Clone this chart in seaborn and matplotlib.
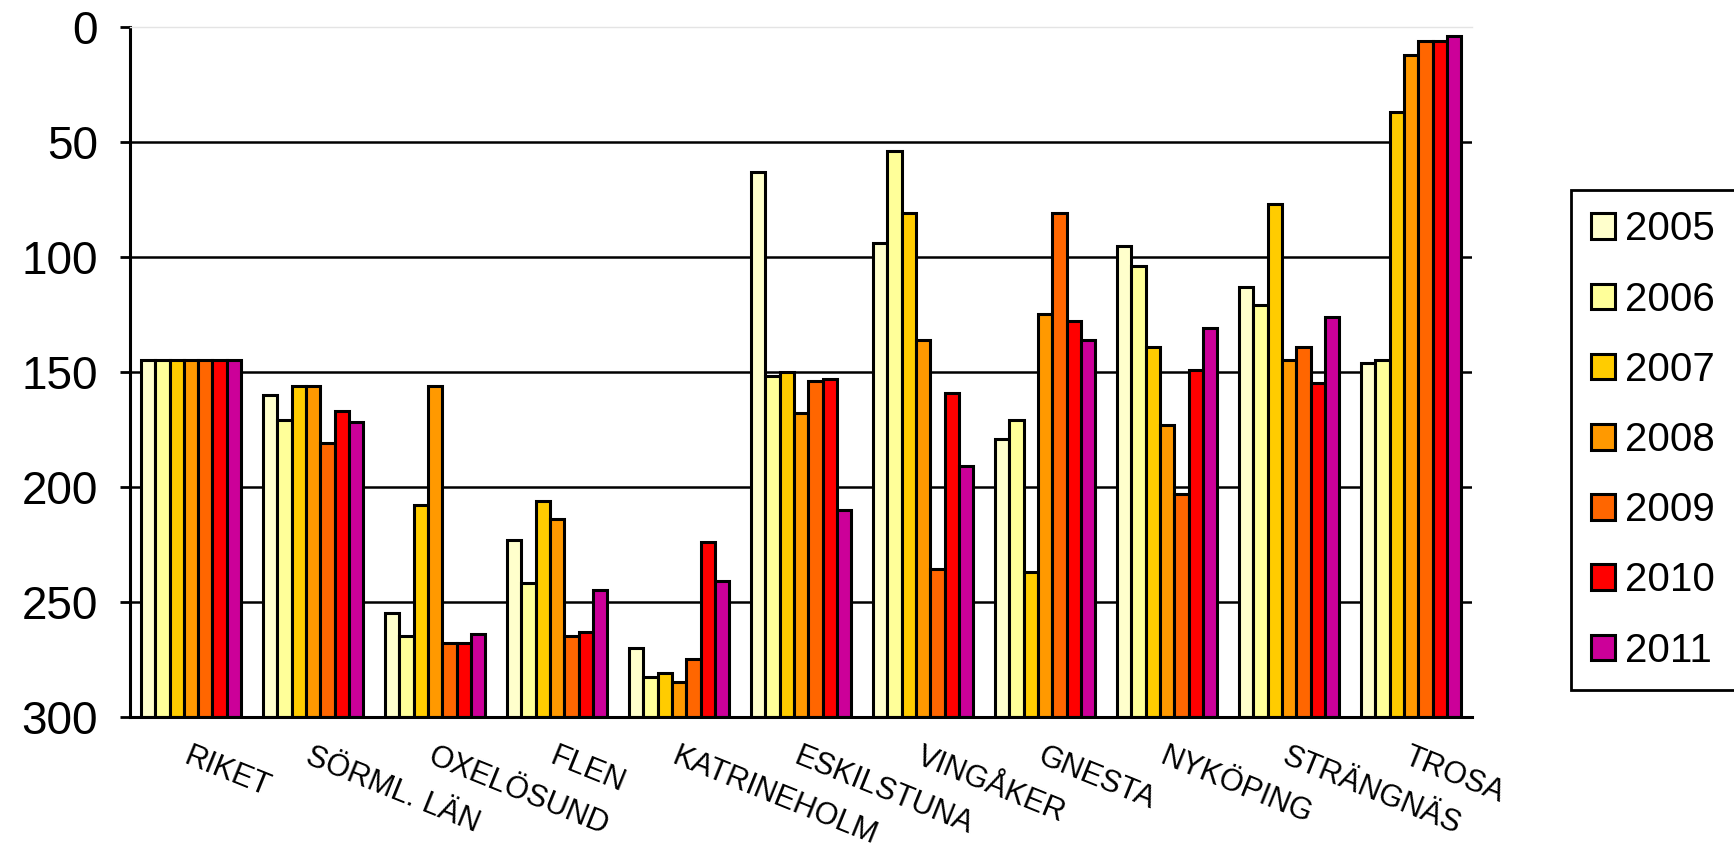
import pandas as pd
import numpy as np
import matplotlib
matplotlib.use("Agg")
import matplotlib.pyplot as plt
import seaborn as sns

# Kommuner och år
kommuner = ['RIKET', 'SÖRML. LÄN', 'OXELÖSUND', 'FLEN', 'KATRINEHOLM', 'ESKILSTUNA',
            'VINGÅKER', 'GNESTA', 'NYKÖPING', 'STRÄNGNÄS', 'TROSA']
years = ['2005', '2006', '2007', '2008', '2009', '2010', '2011']

# Rangordning per år (lägre = bättre)
rank_2005 = [145, 160, 255, 223, 270, 63, 94, 179, 95, 113, 146]
rank_2006 = [145, 171, 265, 242, 283, 152, 54, 171, 104, 121, 145]
rank_2007 = [145, 156, 208, 206, 281, 150, 81, 237, 139, 77, 37]
rank_2008 = [145, 156, 156, 214, 285, 168, 136, 125, 173, 145, 12]
rank_2009 = [145, 181, 268, 265, 275, 154, 236, 81, 203, 139, 6]
rank_2010 = [145, 167, 268, 263, 224, 153, 159, 128, 149, 155, 6]
rank_2011 = [145, 172, 264, 245, 241, 210, 191, 136, 131, 126, 4]

colors = ['#FFFFCC', '#FFFF99', '#FFCC00', '#FF9900', '#FF6600', '#FF0000', '#CC0099']

rank_max = 300

# Bygg tabell i långt format
ranks = [rank_2005, rank_2006, rank_2007, rank_2008, rank_2009, rank_2010, rank_2011]
rows = []
for year, vals in zip(years, ranks):
    for k, v in zip(kommuner, vals):
        rows.append({'Kommun': k, 'År': year, 'Rank': v})
df = pd.DataFrame(rows)
# staplarna växer från 300 (botten) upp mot rangen
df['Stapel'] = rank_max - df['Rank']

sns.set_style('white')
plt.rcParams['text.color'] = 'black'
plt.rcParams['xtick.color'] = 'black'
plt.rcParams['ytick.color'] = 'black'
plt.rcParams['xtick.labelcolor'] = 'black'
plt.rcParams['ytick.labelcolor'] = 'black'
fonts = ['Liberation Sans Narrow', 'Liberation Sans', 'DejaVu Sans']
regular = ['Liberation Sans', 'DejaVu Sans']

fig = plt.figure(figsize=(17.34, 8.51), dpi=100)
ax = fig.add_axes([0.075, 0.158, 0.774, 0.81])

sns.barplot(data=df, x='Kommun', y='Stapel', hue='År', order=kommuner, hue_order=years,
            palette=colors, width=0.82, edgecolor='black', linewidth=2.2, saturation=1,
            ax=ax)

ax.set_ylim(0, rank_max)
ax.set_xlim(-0.5, len(kommuner) - 0.5)
yt = np.arange(0, rank_max + 1, 50)
ax.set_yticks(yt)
ax.set_yticklabels([str(rank_max - t) for t in yt], family=fonts, fontsize=33)

# rutnät
ax.yaxis.grid(True, color='black', linewidth=1.8)
ax.set_axisbelow(True)
ax.get_ygridlines()[-1].set_visible(False)

# x-etiketter
ax.set_xticks(range(len(kommuner)))
ax.set_xticklabels(kommuner, rotation=-22, ha='left', va='top', rotation_mode='anchor',
                   family=fonts, fontsize=22)
ax.tick_params(axis='x', which='major', length=0, pad=18)
ax.set_xticks(np.arange(-0.5, len(kommuner)), minor=True)
ax.tick_params(axis='x', which='minor', length=9, width=2, color='black', direction='out')
ax.tick_params(axis='y', which='major', length=7, width=2, color='black', direction='out',
               left=True, pad=16)

ax.set_xlabel('')
ax.set_ylabel('')

for s in ['left', 'bottom']:
    ax.spines[s].set_color('black')
    ax.spines[s].set_linewidth(2.2)
ax.spines['right'].set_visible(False)
ax.spines['top'].set_color('#e4e4e4')
ax.spines['top'].set_linewidth(1)

# legend
handles, labels = ax.get_legend_handles_labels()
leg = ax.legend(handles, labels, loc='center left', bbox_to_anchor=(0.906, 0.483),
                bbox_transform=fig.transFigure, frameon=True, fancybox=False,
                edgecolor='black', framealpha=1, prop={'family': regular, 'size': 29},
                handlelength=0.6, handleheight=0.6, handletextpad=0.25, labelspacing=0.8,
                borderpad=0.5, borderaxespad=0)
leg.get_frame().set_linewidth(2)

plt.savefig('out.png', dpi=100)
